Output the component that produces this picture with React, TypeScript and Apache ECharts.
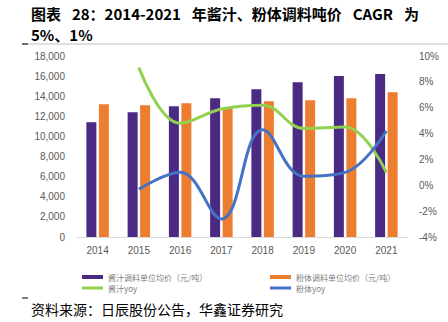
import React, { useEffect, useRef } from "react";
import * as echarts from "echarts";

const years = ["2014", "2015", "2016", "2017", "2018", "2019", "2020", "2021"];
const sauceAvgPrice = [11400, 12400, 13000, 13800, 14700, 15400, 16000, 16200];
const powderAvgPrice = [13200, 13100, 13300, 12900, 13500, 13600, 13800, 14400];
const sauceYoy = [null, 9.1, 4.8, 5.9, 6.2, 4.4, 4.5, 1.0];
const powderYoy = [null, -0.3, 1.0, -2.6, 4.3, 0.7, 1.0, 4.2];

const titleLine1 = "图表\u2002 28：2014-2021\u2002 年酱汁、粉体调料吨价\u2002 CAGR\u2002 为";
const titleLine2 = "5%、1%";
const sourceText = "资料来源：日辰股份公告，华鑫证券研究";

const names = ["酱汁调料单位均价（元/吨）", "粉体调料单位均价（元/吨）", "酱汁yoy", "粉体yoy"];
const colors = ["#4B2A84", "#ED7D31", "#92D050", "#4472C4"];

export default function App() {
  const ref = useRef<HTMLDivElement>(null);
  useEffect(() => {
    const chart = echarts.init(ref.current!, null, { renderer: "svg" });
    const legendText = { color: "#7f7f7f", fontSize: 8, lineHeight: 8, fontFamily: "Noto Sans CJK SC" };
    const mkLegend = (i: number, left: number, top: number) => ({
      show: true,
      data: [{ name: names[i], icon: "rect" }],
      left,
      top,
      itemWidth: 21,
      itemHeight: i < 2 ? 4 : 3,
      itemGap: 0,
      padding: 0,
      textStyle: legendText,
      selectedMode: false,
    });
    chart.setOption({
      animation: false,
      color: colors,
      graphic: [
        {
          type: "text",
          x: 31,
          y: 13,
          style: {
            text: titleLine1,
            fontSize: 15,
            fontWeight: "bold",
            fill: "#000",
            fontFamily: "Noto Sans CJK SC",
            verticalAlign: "middle",
          },
        },
        {
          type: "text",
          x: 31,
          y: 34,
          style: {
            text: titleLine2,
            fontSize: 15,
            fontWeight: "bold",
            fill: "#000",
            fontFamily: "Noto Sans CJK SC",
            verticalAlign: "middle",
          },
        },
        { type: "line", shape: { x1: 22, y1: 44, x2: 448, y2: 44 }, style: { stroke: "#bfbfbf", lineWidth: 1 } },
        { type: "line", shape: { x1: 22, y1: 44, x2: 28, y2: 44 }, style: { stroke: "#000", lineWidth: 1 } },
        { type: "line", shape: { x1: 22, y1: 298, x2: 28, y2: 298 }, style: { stroke: "#000", lineWidth: 1 } },
        {
          type: "text",
          x: 31,
          y: 309,
          style: {
            text: sourceText,
            fontSize: 14,
            fill: "#000",
            fontFamily: "Noto Sans CJK SC",
            verticalAlign: "middle",
          },
        },
      ],
      legend: [mkLegend(0, 82, 273), mkLegend(1, 270, 273), mkLegend(2, 82, 284), mkLegend(3, 270, 284)],
      grid: { left: 77, right: 41, top: 56, bottom: 85 },
      xAxis: {
        type: "category",
        data: years,
        axisLine: { lineStyle: { color: "#d9d9d9" } },
        axisTick: { show: false },
        axisLabel: { color: "#595959", fontSize: 10, margin: 8, fontFamily: "Liberation Sans" },
      },
      yAxis: [
        {
          type: "value",
          min: 0,
          max: 18000,
          interval: 2000,
          splitLine: { show: false },
          axisLine: { show: false },
          axisTick: { show: false },
          axisLabel: {
            color: "#595959",
            fontSize: 10,
            margin: 12,
            fontFamily: "Liberation Sans",
            formatter: (v: number) => v.toLocaleString("en-US"),
          },
        },
        {
          type: "value",
          min: -4,
          max: 10,
          interval: 2,
          splitLine: { show: false },
          axisLine: { show: false },
          axisTick: { show: false },
          axisLabel: { color: "#595959", fontSize: 10, margin: 12, fontFamily: "Liberation Sans", formatter: "{value}%" },
        },
      ],
      series: [
        { name: names[0], type: "bar", data: sauceAvgPrice, barWidth: 10, barGap: "25%", itemStyle: { color: colors[0] } },
        { name: names[1], type: "bar", data: powderAvgPrice, barWidth: 10, barGap: "25%", itemStyle: { color: colors[1] } },
        {
          name: names[2],
          type: "line",
          yAxisIndex: 1,
          data: sauceYoy,
          smooth: 0.4,
          showSymbol: false,
          symbol: "none",
          lineStyle: { width: 3, color: colors[2] },
          itemStyle: { color: colors[2] },
        },
        {
          name: names[3],
          type: "line",
          yAxisIndex: 1,
          data: powderYoy,
          smooth: 0.4,
          showSymbol: false,
          symbol: "none",
          lineStyle: { width: 3, color: colors[3] },
          itemStyle: { color: colors[3] },
        },
      ],
    });
    return () => chart.dispose();
  }, []);
  return <div ref={ref} style={{ width: 448, height: 322, position: "absolute", left: 0, top: 0, background: "#fff" }} />;
}
